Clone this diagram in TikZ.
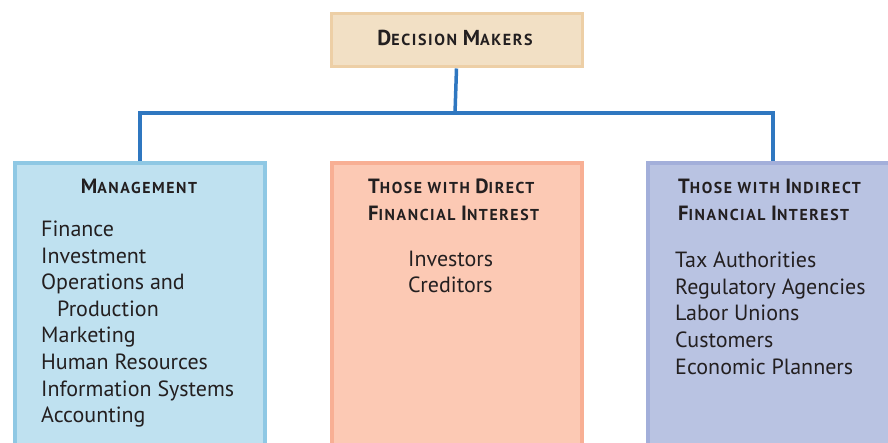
\documentclass[tikz,border=0pt]{standalone}
\usepackage{fontspec}
\setmainfont{PT Sans}
\newfontfamily\hdrfont[LetterSpace=10]{PT Sans}
\definecolor{txt}{HTML}{231F20}
\definecolor{linec}{HTML}{2F77C0}
\definecolor{topfill}{HTML}{F2E0C5}
\definecolor{topdraw}{HTML}{EDCFA6}
\definecolor{lfill}{HTML}{BFE1F0}
\definecolor{ldraw}{HTML}{8FC8E4}
\definecolor{mfill}{HTML}{FCC9B4}
\definecolor{mdraw}{HTML}{F8AF94}
\definecolor{rfill}{HTML}{B9C3E2}
\definecolor{rdraw}{HTML}{A3AFDA}
\newcommand\hdrbig[2]{{\fontsize{21.6}{27}\selectfont #1}{\fontsize{16}{27}\selectfont #2}}
\newcommand\hdrsc[2]{{\fontsize{20.6}{27}\selectfont #1}{\fontsize{15.8}{27}\selectfont #2}}
\tikzset{
  boxnode/.style={rectangle, line width=4pt, minimum width=250pt, minimum height=300pt, anchor=north west, inner sep=0pt},
  hdrtxt/.style={text=txt, font=\hdrfont\bfseries\fontsize{16}{27}\selectfont, inner sep=0pt, align=left},
  bodytxt/.style={text=txt, font=\fontsize{22}{26.6}\selectfont, inner sep=0pt, anchor=base west, align=left},
  conn/.style={draw=linec, line width=3.5pt}
}
\begin{document}
\begin{tikzpicture}[x=1pt,y=-1pt]
\useasboundingbox (0,0) rectangle (888,443);
\clip (0,0) rectangle (888,443);
% top box
\node[rectangle, draw=topdraw, fill=topfill, line width=3pt, minimum width=251pt, minimum height=53pt, anchor=north west, inner sep=0pt] (dm) at (329.5,12.5) {};
\node[hdrtxt, anchor=base] (dmt) at (455,46) {\hdrbig{D}{ECISION }\hdrbig{M}{AKERS}};
% three boxes
\node[boxnode, draw=ldraw, fill=lfill] (mgmt) at (13,161) {};
\node[boxnode, draw=mdraw, fill=mfill] (direct) at (330,161) {};
\node[boxnode, draw=rdraw, fill=rfill] (indirect) at (646,161) {};
% connectors
\coordinate (j) at (455,113);
\draw[conn] (dm.south) -- (j);
\draw[conn, line join=miter] (mgmt.north) |- (j) -| (indirect.north);
% management text
\node[hdrtxt, anchor=base] (mh) at (139,194) {\hdrsc{M}{ANAGEMENT}};
\node[bodytxt] (m1) at (41,422.7) {Finance\\Investment\\Operations and\\\hspace*{16pt}Production\\Marketing\\Human Resources\\Information Systems\\Accounting};
% direct text
\node[hdrtxt, anchor=base west] (dh) at (368,221) {\hdrsc{T}{HOSE WITH }\hdrsc{D}{IRECT}\\\hdrsc{F}{INANCIAL }\hdrsc{I}{NTEREST}};
\node[bodytxt] (d1) at (408,292.7) {Investors\\Creditors};
% indirect text
\node[hdrtxt, anchor=base west] (ih) at (678,221) {\hdrsc{T}{HOSE WITH }\hdrsc{I}{NDIRECT}\\\hdrsc{F}{INANCIAL }\hdrsc{I}{NTEREST}};
\node[bodytxt] (i1) at (675,374) {Tax Authorities\\Regulatory Agencies\\Labor Unions\\Customers\\Economic Planners};
\end{tikzpicture}
\end{document}
